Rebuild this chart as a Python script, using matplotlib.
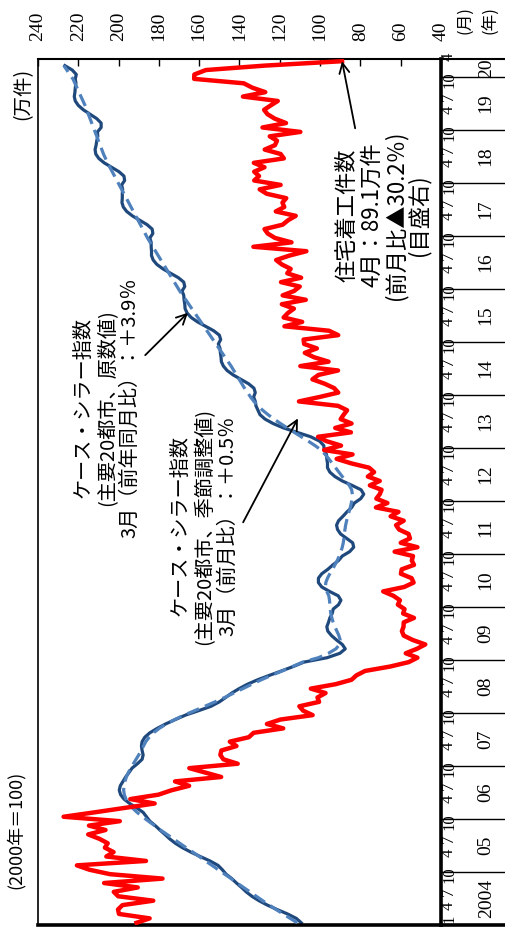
import numpy as np
import matplotlib
matplotlib.use('Agg')
import matplotlib.pyplot as plt
from matplotlib.transforms import blended_transform_factory

plt.rcParams['font.family'] = ['Liberation Serif', 'Noto Sans CJK JP']
JP = ['Noto Sans CJK JP', 'DejaVu Sans']

# 2004年1月～2020年4月（月次）
years = ['2004', '05', '06', '07', '08', '09', '10', '11', '12', '13',
         '14', '15', '16', '17', '18', '19', '20']
month_labels = ['1', '4', '7', '10']

# 住宅着工件数（万件、目盛右）
starts = [
    191.1, 184.6, 199.8, 200.3, 198.1, 182.8, 200.2, 202.4, 190.5, 207.2, 178.2, 204.2,  # 2004
    214.4, 220.7, 186.4, 206.1, 202.5, 206.8, 205.4, 209.5, 215.1, 206.5, 214.7, 199.4,  # 2005
    227.3, 211.9, 196.9, 182.1, 194.2, 180.2, 173.7, 165.0, 172.0, 149.1, 157.0, 164.9,  # 2006
    140.9, 148.0, 149.5, 149.0, 141.5, 144.8, 135.4, 133.0, 118.3, 126.4, 119.7, 103.7,  # 2007
    108.4, 110.3, 100.5, 101.3, 97.3, 104.6, 92.3, 84.4, 82.0, 77.7, 65.2, 56.0,  # 2008
    51.7, 57.5, 52.0, 47.8, 54.0, 58.5, 59.4, 58.6, 58.5, 53.4, 58.8, 58.1,  # 2009
    61.4, 60.4, 63.6, 68.7, 58.3, 53.6, 54.6, 59.9, 59.5, 53.4, 54.5, 53.9,  # 2010
    63.0, 51.7, 60.0, 55.4, 56.1, 60.8, 62.3, 58.5, 65.0, 61.1, 72.3, 66.6,  # 2011
    72.1, 70.4, 69.5, 75.3, 70.4, 76.3, 73.2, 75.7, 84.7, 91.8, 83.9, 98.0,  # 2012
    89.6, 96.8, 101.0, 84.7, 92.5, 84.4, 89.8, 88.3, 86.6, 91.1, 110.5, 100.3,  # 2013
    91.0, 93.0, 97.7, 103.8, 100.8, 91.1, 109.8, 95.8, 103.0, 107.6, 101.6, 107.9,  # 2014
    108.2, 91.0, 95.6, 117.7, 108.9, 118.1, 116.0, 113.0, 119.0, 107.1, 118.6, 112.9,  # 2015
    110.1, 119.4, 109.4, 116.3, 114.6, 119.0, 121.8, 115.3, 106.8, 133.1, 114.2, 122.4,  # 2016
    126.0, 127.6, 118.6, 115.9, 112.1, 122.0, 117.8, 118.7, 116.8, 126.5, 130.0, 119.6,  # 2017
    132.7, 130.3, 132.7, 127.6, 132.9, 118.0, 119.6, 127.5, 122.4, 121.4, 125.0, 109.8,  # 2018
    128.6, 116.9, 122.5, 126.1, 127.8, 124.5, 121.0, 138.3, 127.2, 133.6, 137.9, 162.5,  # 2019
    162.4, 156.7, 127.6, 89.1,  # 2020
]

# ケース・シラー指数（主要20都市、原数値、2000年=100）
cs_nsa = [
    151.6, 153.1, 155.7, 158.8, 161.7, 164.2, 166.3, 168.0, 169.4, 170.9, 172.3, 174.0,  # 2004
    175.1, 176.4, 178.8, 181.7, 184.5, 187.0, 189.1, 190.8, 192.2, 193.7, 195.1, 196.7,  # 2005
    197.7, 198.7, 200.6, 202.7, 204.4, 205.4, 205.8, 205.5, 204.7, 203.9, 202.9, 202.0,  # 2006
    200.4, 199.0, 198.7, 199.0, 199.2, 199.0, 198.2, 196.7, 194.5, 192.0, 189.1, 186.1,  # 2007
    182.2, 178.5, 176.0, 174.1, 172.3, 170.1, 167.6, 164.6, 161.1, 157.5, 154.0, 150.8,  # 2008
    143.9, 140.1, 138.5, 139.4, 141.1, 142.6, 143.7, 144.0, 143.5, 143.1, 142.4, 142.1,  # 2009
    140.5, 139.8, 140.6, 143.2, 145.5, 146.5, 146.5, 145.5, 143.7, 142.2, 140.5, 139.4,  # 2010
    137.2, 136.0, 136.3, 138.1, 139.9, 140.8, 141.1, 140.5, 139.2, 138.0, 136.6, 135.8,  # 2011
    133.9, 133.0, 133.8, 136.5, 139.4, 141.6, 143.1, 143.8, 143.8, 144.0, 144.1, 144.8,  # 2012
    144.9, 146.1, 148.8, 152.9, 156.9, 160.0, 162.4, 163.9, 164.5, 165.1, 165.3, 165.8,  # 2013
    165.3, 165.7, 167.3, 169.6, 171.9, 173.7, 174.8, 175.4, 175.5, 175.7, 175.8, 176.3,  # 2014
    175.6, 176.0, 177.7, 180.1, 182.5, 184.4, 185.6, 186.2, 186.3, 186.5, 186.6, 187.1,  # 2015
    186.3, 186.6, 188.2, 190.5, 192.8, 194.6, 195.7, 196.2, 196.2, 196.3, 196.3, 196.7,  # 2016
    195.8, 196.0, 197.5, 199.7, 201.9, 203.6, 204.6, 205.0, 204.9, 204.9, 204.8, 205.1,  # 2017
    204.2, 204.4, 205.9, 208.1, 210.3, 211.9, 212.8, 213.0, 212.7, 212.5, 212.2, 212.3,  # 2018
    211.2, 211.2, 212.5, 214.5, 216.5, 218.0, 218.9, 219.2, 219.0, 218.9, 218.7, 218.9,  # 2019
    218.6, 219.8, 222.0,  # 2020
]

# ケース・シラー指数（主要20都市、季節調整値）
cs_sa = [
    152.8, 154.9, 157.0, 159.1, 161.1, 163.1, 165.0, 166.9, 168.8, 170.7, 172.5, 174.4,  # 2004
    176.3, 178.2, 180.1, 182.0, 183.9, 185.9, 187.8, 189.7, 191.6, 193.5, 195.3, 197.1,  # 2005
    198.9, 200.5, 201.9, 203.0, 203.8, 204.3, 204.5, 204.4, 204.1, 203.7, 203.1, 202.4,  # 2006
    201.6, 200.8, 200.0, 199.3, 198.6, 197.9, 196.9, 195.6, 193.9, 191.8, 189.3, 186.5,  # 2007
    183.4, 180.3, 177.3, 174.4, 171.7, 169.0, 166.3, 163.5, 160.5, 157.3, 154.2, 151.2,  # 2008
    146.5, 143.5, 141.3, 140.2, 140.0, 140.4, 141.0, 141.6, 142.1, 142.5, 142.8, 143.0,  # 2009
    143.1, 143.2, 143.4, 144.0, 144.4, 144.3, 143.8, 143.1, 142.3, 141.6, 140.9, 140.3,  # 2010
    139.8, 139.4, 139.1, 138.9, 138.8, 138.6, 138.4, 138.1, 137.8, 137.4, 137.0, 136.7,  # 2011
    136.5, 136.4, 136.6, 137.3, 138.3, 139.4, 140.4, 141.4, 142.4, 143.4, 144.5, 145.7,  # 2012
    147.5, 149.5, 151.6, 153.7, 155.8, 157.8, 159.7, 161.5, 163.1, 164.5, 165.7, 166.7,  # 2013
    167.6, 168.5, 169.3, 170.1, 170.9, 171.7, 172.5, 173.4, 174.3, 175.2, 176.1, 177.0,  # 2014
    177.9, 178.8, 179.7, 180.6, 181.5, 182.4, 183.3, 184.2, 185.1, 186.0, 186.9, 187.8,  # 2015
    188.6, 189.4, 190.2, 191.0, 191.8, 192.6, 193.4, 194.2, 195.0, 195.8, 196.6, 197.4,  # 2016
    198.1, 198.8, 199.5, 200.2, 200.9, 201.6, 202.3, 203.0, 203.7, 204.4, 205.1, 205.8,  # 2017
    206.5, 207.2, 207.9, 208.6, 209.3, 209.9, 210.5, 211.0, 211.5, 212.0, 212.5, 213.0,  # 2018
    213.5, 214.0, 214.5, 215.0, 215.5, 216.0, 216.6, 217.2, 217.8, 218.4, 219.0, 219.6,  # 2019
    220.6, 221.4, 222.3,  # 2020
]

right_ticks = [240, 220, 200, 180, 160, 140, 120, 100, 80, 60, 40]

note_nsa = ['ケース・シラー指数', '(主要20都市、原数値)', '3月（前年同月比）：＋3.9％']
note_sa = ['ケース・シラー指数', '(主要20都市、季節調整値)', '3月（前月比）：＋0.5％']
note_starts = ['住宅着工件数', '4月：89.1万件', '(前月比▲30.2％)', '(目盛右)']

n = len(starts)
t = np.arange(n) + 0.5

fig = plt.figure(figsize=(5.06, 9.34), dpi=100)
ax = fig.add_axes([38 / 506, 9 / 934, 403 / 506, 866 / 934])
ax2 = ax.twiny()

ax.plot(cs_nsa, t[:len(cs_nsa)], color='#1F497D', lw=2.3, zorder=2)
ax.plot(cs_sa, t[:len(cs_sa)], color='#4F81BD', lw=2.3, dashes=(4, 2), zorder=3)
ax2.plot(starts, t, color='#FF0000', lw=3.2, solid_joinstyle='round', zorder=3)

ax.set_ylim(0, n)
ax.set_xlim(230, 110)
ax2.set_xlim(240, 40)

ax.set_xticks([])
ax.set_yticks([])
ax2.set_xticks(right_ticks)
ax2.set_xticklabels([str(v) for v in right_ticks])
ax2.tick_params(axis='x', direction='in', length=5, width=1, labelsize=14,
                pad=13, labelrotation=90)

for s in ax2.spines.values():
    s.set_visible(False)
ax.spines['left'].set_linewidth(1.2)
ax.spines['top'].set_linewidth(1.5)
ax.spines['right'].set_linewidth(2.6)
ax.spines['bottom'].set_linewidth(2.6)

# 時間軸（右側）の目盛
trans = blended_transform_factory(ax.transAxes, ax.transData)
xr = (506 - 38) / 403
for k, yl in enumerate(years):
    y0 = 12 * k
    span = min(12, n - y0)
    ax.text(1.112, y0 + span / 2, yl, transform=trans, rotation=90,
            ha='center', va='center', fontsize=14)
    labs = month_labels if k == 0 else month_labels[1:]
    for m in labs:
        idx = y0 + int(m) - 1
        if idx >= n:
            continue
        ax.text(1.02, idx + 0.5, m, transform=trans, rotation=90,
                rotation_mode='anchor', ha='left', va='center', fontsize=12)
    if k > 0:
        ax.plot([1, xr], [y0, y0], transform=trans, color='black', lw=1.0,
                clip_on=False)
ax.plot([1, xr], [n, n], transform=trans, color='black', lw=1.5, clip_on=False)
ax.plot([1, xr], [0, 0], transform=trans, color='black', lw=2.6, clip_on=False)

fig.text(465 / 506, 1 - 20 / 934, '(月)', rotation=90, ha='center', va='center',
         fontsize=12, family=JP)
fig.text(490 / 506, 1 - 20 / 934, '(年)', rotation=90, ha='center', va='center',
         fontsize=12, family=JP)
fig.text(23 / 506, 1 - 94 / 934, '(万件)', rotation=90, ha='center', va='center',
         fontsize=14, family=JP)
fig.text(15 / 506, 1 - 830 / 934, '(2000年＝100)', rotation=90, ha='center', va='center',
         fontsize=13, family=JP)


def note(axis, lines, xs, yc, size):
    # 各行を個別に配置
    for s, xp in zip(lines, xs):
        axis.text((xp - 38) / 403, (925 - yc) / 866, s, transform=axis.transAxes,
                  rotation=90, ha='center', va='center', fontsize=size,
                  family=JP, zorder=5)


arrow = dict(arrowstyle='->', color='black', lw=1.3, mutation_scale=18,
             shrinkA=0, shrinkB=0)

note(ax, note_nsa, [83, 107, 130], 408, 14.5)
ax.annotate('', xy=(0.372, 0.707), xytext=(0.266, 0.658), xycoords='axes fraction',
            textcoords='axes fraction', arrowprops=arrow)

note(ax, note_sa, [180, 205, 228], 526, 14.5)
ax.annotate('', xy=(0.645, 0.585), xytext=(0.509, 0.465), xycoords='axes fraction',
            textcoords='axes fraction', arrowprops=arrow)

note(ax2, note_starts, [347, 372, 396, 419], 215, 16)
ax2.annotate('', xy=(starts[-1], t[-1]), xycoords='data', xytext=(0.787, 0.920),
             textcoords='axes fraction', arrowprops=arrow)

fig.savefig('out.png', dpi=100)
